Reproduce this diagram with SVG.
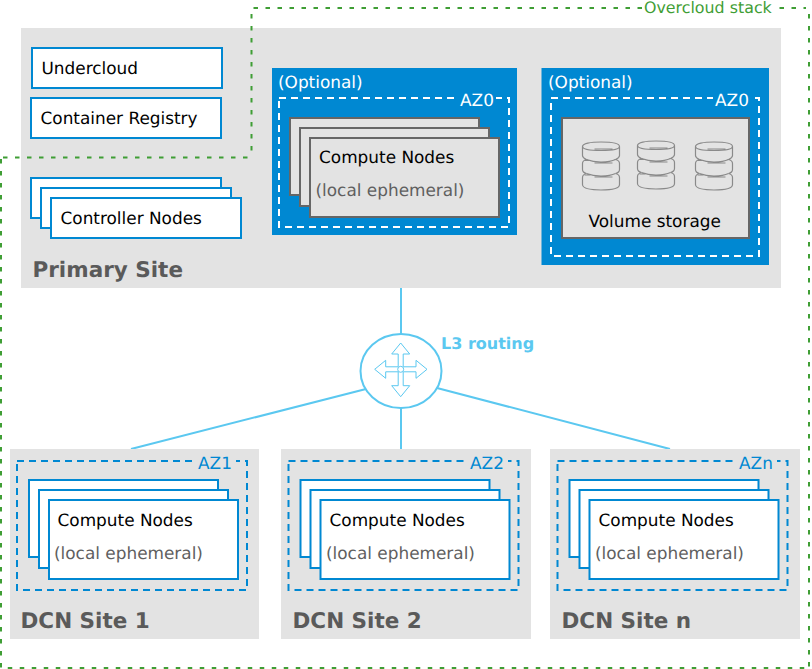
<svg xmlns="http://www.w3.org/2000/svg" width="812" height="669" viewBox="0 0 812 669">
<style>
text{font-family:"DejaVu Sans",sans-serif;font-size:16.9px;fill:#000;text-rendering:geometricPrecision}
.site{fill:#e3e3e3}
.bl{fill:#fff;stroke:#0088d2;stroke-width:2}
.gr{fill:#e3e3e3;stroke:#666;stroke-width:2}
.opt{fill:#0088d2}
.dw{fill:none;stroke:#fff;stroke-width:2;stroke-dasharray:7 5}
.db{fill:none;stroke:#0088d2;stroke-width:2;stroke-dasharray:7 5}
.title{font-weight:bold;font-size:21.5px;fill:#5a5a5a}
.sub{fill:#5f5f5f}
.w{fill:#fff}
.b{fill:#0088d2}
.link{fill:none;stroke:#5bc8f0;stroke-width:2}
.disk{fill:none;stroke:#8a8a8a;stroke-width:1.200}
.arr{fill:#fff;stroke:#5bc8f0;stroke-width:1}
</style>
<defs>
<g id="db">
<path class="disk" d="M0 5C0 2 8 .5 18.500 .5S37 2 37 5V14C37 16.500 34 17.500 33 18C35 18.500 37 20 37 22V28C37 30 35 31.500 33 32C35 32.500 37 34 37 36V43C37 47 28 48.500 18.500 48.500S0 47 0 43V36C0 34 2 32.500 4 32C2 31.500 0 30 0 28V22C0 20 2 18.500 4 18C3 17.500 0 16.500 0 14Z"/>
<path class="disk" d="M0 5C0 8 8 9 18.500 9S37 8 37 5M4 18C9 20 14 20.500 18.500 20.500S29 20 33 18M4 32C9 34 14 34.500 18.500 34.500S29 34 33 32M12 7.500H30M2 19H8M12 21.500H30M2 33.500H8M12 35.500H30"/>
</g>
<g id="dcn">
<rect class="db" x="17" y="461" width="230" height="129"/>
<rect class="bl" x="29" y="480" width="189" height="77"/>
<rect class="bl" x="39" y="490" width="189" height="78"/>
<rect class="bl" x="49" y="500" width="189" height="79"/>
</g>
</defs>
<g id="primary-site">
<rect class="site" x="21" y="28" width="760" height="260"/>
<text class="title" x="32.500" y="276.500">Primary Site</text>
</g>
<g id="undercloud">
<rect class="bl" x="32" y="48" width="190" height="40"/>
<text x="41.500" y="73.500">Undercloud</text>
</g>
<g id="container-registry">
<rect class="bl" x="31" y="98" width="190" height="40"/>
<text x="40.500" y="123.500">Container Registry</text>
</g>
<g id="controller-nodes">
<rect class="bl" x="31" y="178" width="190" height="40"/>
<rect class="bl" x="41" y="188" width="190" height="40"/>
<rect class="bl" x="51" y="198" width="190" height="40"/>
<text x="60.500" y="223.500">Controller Nodes</text>
</g>
<g id="optional-compute">
<rect class="opt" x="272" y="68" width="245" height="167"/>
<text class="w" x="278" y="88">(Optional)</text>
<rect class="dw" x="279" y="98" width="230" height="129"/>
<rect class="opt" x="458" y="90" width="38" height="18"/>
<text class="w" x="460" y="106">AZ0</text>
<rect class="gr" x="290" y="118" width="189" height="77"/>
<rect class="gr" x="300" y="128" width="189" height="78"/>
<rect class="gr" x="310" y="138" width="189" height="79"/>
<text x="319" y="163">Compute Nodes</text>
<text class="sub" x="315.500" y="196">(local ephemeral)</text>
</g>
<g id="optional-storage">
<rect class="opt" x="541.500" y="68" width="227.500" height="197"/>
<text class="w" x="548" y="88">(Optional)</text>
<rect class="dw" x="551" y="98" width="208" height="158"/>
<rect class="opt" x="713" y="90" width="38" height="18"/>
<text class="w" x="715" y="106">AZ0</text>
<rect class="gr" x="562" y="118" width="187" height="120"/>
<use href="#db" x="582.500" y="141.500"/>
<use href="#db" x="637.500" y="140.500"/>
<use href="#db" x="695.500" y="141.500"/>
<text x="588.500" y="227">Volume storage</text>
</g>
<g id="connectors">
<path class="link" d="M401 288V334M401 407V449M366 389L131 449M437 388L670 449"/>
</g>
<g id="router">
<ellipse cx="401" cy="371" rx="40.500" ry="37" fill="#fff" stroke="#5bc8f0" stroke-width="2"/>
<path class="arr" d="M398.200 366.800V354H391.700L400.700 343L409.700 354H403.200V366.800H416V360.300L427 369.300L416 378.300V371.800H403.200V385.700H409.700L400.700 396.700L391.700 385.700H398.200V371.800H385.700V378.300L374.700 369.300L385.700 360.300V366.800Z"/>
<circle class="arr" cx="400.700" cy="369.300" r="3"/>
<text x="441" y="349" style="font-weight:bold;font-size:16px;fill:#5bc8f0">L3 routing</text>
</g>
<g id="dcn-site-1">
<rect class="site" x="10" y="449" width="249" height="190"/>
<use href="#dcn"/>
<rect class="site" x="196" y="453" width="40" height="16"/>
<text class="b" x="198" y="469">AZ1</text>
<text x="57.500" y="526">Compute Nodes</text>
<text class="sub" x="54" y="559">(local ephemeral)</text>
<text class="title" x="20.500" y="628">DCN Site 1</text>
</g>
<g id="dcn-site-2">
<rect class="site" x="281" y="449" width="250" height="190"/>
<use href="#dcn" x="271.500"/>
<rect class="site" x="468" y="453" width="40" height="16"/>
<text class="b" x="470" y="469">AZ2</text>
<text x="329.500" y="526">Compute Nodes</text>
<text class="sub" x="326" y="559">(local ephemeral)</text>
<text class="title" x="292.500" y="628">DCN Site 2</text>
</g>
<g id="dcn-site-n">
<rect class="site" x="550" y="449" width="250" height="190"/>
<use href="#dcn" x="540.500"/>
<rect class="site" x="737" y="453" width="40" height="16"/>
<text class="b" x="739" y="469">AZn</text>
<text x="598.500" y="526">Compute Nodes</text>
<text class="sub" x="595" y="559">(local ephemeral)</text>
<text class="title" x="561.500" y="628">DCN Site n</text>
</g>
<g id="overcloud-stack">
<path d="M253.500 8H642M779.500 8H806M809 14V668M7.750 668H807M1 159V668M3 157.500H251.500M251.500 14V157" fill="none" stroke="#3f9e35" stroke-width="2" stroke-dasharray="4.500 7.500"/>
<text x="644" y="13" style="font-size:15.850px;fill:#3f9e35">Overcloud stack</text>
</g>
</svg>
